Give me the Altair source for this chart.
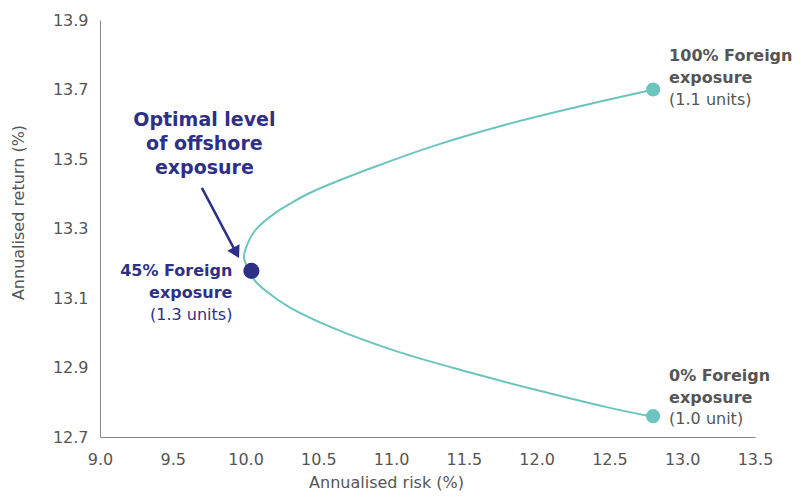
import altair as alt
import pandas as pd

# Efficient frontier (risk %, return %)
frontier_risk = [12.798, 12.250, 11.780, 11.310, 10.865, 10.455, 10.300, 10.205, 10.128,
                 10.058, 9.996, 9.990, 10.005, 10.025, 10.060, 10.140, 10.300, 10.600,
                 11.050, 11.530, 12.000, 12.480, 12.798]
frontier_ret = [13.699, 13.647, 13.598, 13.540, 13.474, 13.405, 13.370, 13.345, 13.320,
                13.290, 13.235, 13.215, 13.195, 13.178, 13.152, 13.120, 13.074, 13.014,
                12.945, 12.887, 12.835, 12.786, 12.758]

# Highlighted portfolios
port_names = ["100% Foreign", "0% Foreign", "45% Foreign"]
port_risk = [12.80, 12.80, 10.04]
port_ret = [13.70, 12.76, 13.178]
port_units = ["(1.1 units)", "(1.0 unit)", "(1.3 units)"]

annot_lines = ["Optimal level", "of offshore", "exposure"]

TEAL = "#6CC4BF"
NAVY = "#2E3085"
GREY = "#555555"
FONT = "DejaVu Sans"

fr = pd.DataFrame({"risk": frontier_risk, "ret": frontier_ret,
                   "i": list(range(len(frontier_risk)))})
pts = pd.DataFrame({"name": port_names, "risk": port_risk, "ret": port_ret,
                    "units": port_units})

xs = alt.Scale(domain=[9.0, 13.5], nice=False, zero=False)
ys = alt.Scale(domain=[12.7, 13.9], nice=False, zero=False)

X = alt.X("risk:Q", scale=xs,
          axis=alt.Axis(title="Annualised risk (%)", values=[9.0, 9.5, 10.0, 10.5, 11.0, 11.5, 12.0, 12.5, 13.0, 13.5],
                        format=".1f", grid=False, ticks=False, labelPadding=14,
                        labelFontSize=16, labelColor=GREY, labelFont=FONT,
                        titleFontSize=16, titleColor=GREY, titleFont=FONT,
                        titleFontWeight="normal", titleX=286, titleY=45,
                        titleBaseline="middle",
                        domainColor="#888888", labelFlush=False))
Y = alt.Y("ret:Q", scale=ys,
          axis=alt.Axis(title="Annualised return (%)", values=[12.7, 12.9, 13.1, 13.3, 13.5, 13.7, 13.9],
                        format=".1f", grid=False, ticks=False, labelPadding=12,
                        labelFontSize=16, labelColor=GREY, labelFont=FONT,
                        titleFontSize=16, titleColor=GREY, titleFont=FONT,
                        titleFontWeight="normal", titleX=-82, titleY=192,
                        titleBaseline="middle",
                        domainColor="#888888", labelFlush=False))

line = alt.Chart(fr).mark_line(color=TEAL, strokeWidth=2, interpolate="catmull-rom").encode(
    x=X, y=Y, order="i:Q")

teal_pts = alt.Chart(pts.iloc[:2]).mark_circle(color=TEAL, opacity=1, size=200).encode(
    x="risk:Q", y="ret:Q")
navy_pt = alt.Chart(pts.iloc[2:]).mark_circle(color=NAVY, opacity=1, size=260).encode(
    x="risk:Q", y="ret:Q")


def labels(df, dys, align, dx, color):
    out = []
    for k, dy in enumerate(dys):
        txt = "name:N" if k == 0 else (alt.value("exposure") if k == 1 else "units:N")
        out.append(alt.Chart(df).mark_text(
            align=align, baseline="middle", dx=dx, dy=dy, fontSize=16,
            fontWeight="bold" if k < 2 else "normal", color=color, font=FONT).encode(
            x="risk:Q", y="ret:Q", text=txt))
    return out


top_lbls = labels(pts.iloc[0:1], [-34, -12, 10], "left", 16, GREY)
bot_lbls = labels(pts.iloc[1:2], [-40, -18, 3], "left", 16, GREY)
left_lbls = labels(pts.iloc[2:3], [0, 22, 44], "right", -19, NAVY)

# headline annotation (one multi-line text), anchored to the optimal point
ann = alt.Chart(pts.iloc[2:3]).mark_text(
    align="center", baseline="alphabetic", dx=-47, dy=-145, lineHeight=24,
    fontSize=19, fontWeight="bold", color=NAVY, font=FONT).encode(
    x="risk:Q", y="ret:Q", text=alt.value(annot_lines))

# arrow
arrow_df = pd.DataFrame({"x1": [9.700], "y1": [13.417], "x2": [9.936], "y2": [13.230]})
arrow = alt.Chart(arrow_df).mark_rule(color=NAVY, strokeWidth=2.5).encode(
    x=alt.X("x1:Q", scale=xs), y=alt.Y("y1:Q", scale=ys), x2="x2:Q", y2="y2:Q")
head = alt.Chart(arrow_df).mark_point(shape="triangle-up", filled=True, color=NAVY,
                                      opacity=1, size=190, angle=152).encode(
    x=alt.X("x2:Q", scale=xs), y=alt.Y("y2:Q", scale=ys))

chart = alt.layer(line, arrow, head, teal_pts, navy_pt, *top_lbls, *bot_lbls,
                  *left_lbls, ann).properties(
    width=655, height=417,
    autosize=alt.AutoSizeParams(type="none"),
    padding={"left": 100, "top": 20, "right": 40, "bottom": 59},
).configure_view(stroke=None)

chart.save("out.html", embed_options={"renderer": "svg", "actions": False})
